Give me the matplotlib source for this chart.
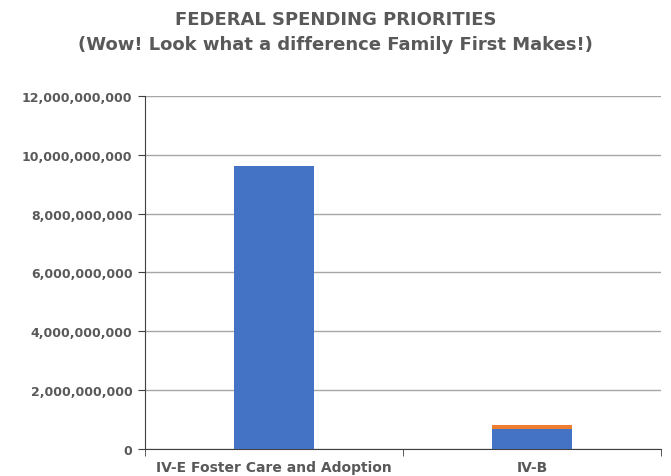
import matplotlib
matplotlib.use("Agg")
import matplotlib.pyplot as plt
from matplotlib.ticker import FuncFormatter, FixedLocator

categories = ["IV-E Foster Care and Adoption", "IV-B"]
base_spending = [9.6e9, 0.68e9]
family_first = [0.0, 0.14e9]
y_ticks = [0, 2e9, 4e9, 6e9, 8e9, 10e9, 12e9]

text_color = "#595959"
blue = "#4472C4"
orange = "#ED7D31"

fig = plt.figure(figsize=(6.71, 4.77), dpi=100)
ax = fig.add_axes([0.216, 0.0566, 0.769, 0.7404])

x = list(range(len(categories)))
ax.bar(x, base_spending, width=0.31, color=blue, zorder=3)
ax.bar(x, family_first, width=0.31, bottom=base_spending, color=orange, zorder=3)

ax.set_xlim(-0.5, len(categories) - 0.5)
ax.set_ylim(0, 12e9)
ax.set_yticks(y_ticks)
ax.yaxis.set_major_formatter(FuncFormatter(lambda v, p: f"{int(v):,}"))
ax.yaxis.grid(True, color="#A6A6A6", linewidth=1.0, zorder=0)

ax.set_xticks(x)
ax.set_xticklabels(categories)
ax.xaxis.set_minor_locator(FixedLocator([-0.5, 0.5, 1.5]))
ax.tick_params(axis="x", which="major", length=0, pad=8)
ax.tick_params(axis="x", which="minor", length=5, direction="out", color="#404040")
ax.tick_params(axis="y", length=5, direction="out", color="#404040", pad=4)

for lbl in ax.get_xticklabels():
    lbl.set_fontsize(10)
    lbl.set_fontweight("bold")
    lbl.set_color(text_color)
for lbl in ax.get_yticklabels():
    lbl.set_fontsize(9)
    lbl.set_fontweight("bold")
    lbl.set_color(text_color)

for side in ["top", "right"]:
    ax.spines[side].set_visible(False)
ax.spines["left"].set_color("#404040")
ax.spines["bottom"].set_color("#404040")

fig.text(0.5, 0.958, "FEDERAL SPENDING PRIORITIES", ha="center", va="center",
         fontsize=13, fontweight="bold", color=text_color)
fig.text(0.5, 0.905, "(Wow! Look what a difference Family First Makes!)", ha="center",
         va="center", fontsize=13, fontweight="bold", color=text_color)

fig.savefig("out.png", dpi=100)
